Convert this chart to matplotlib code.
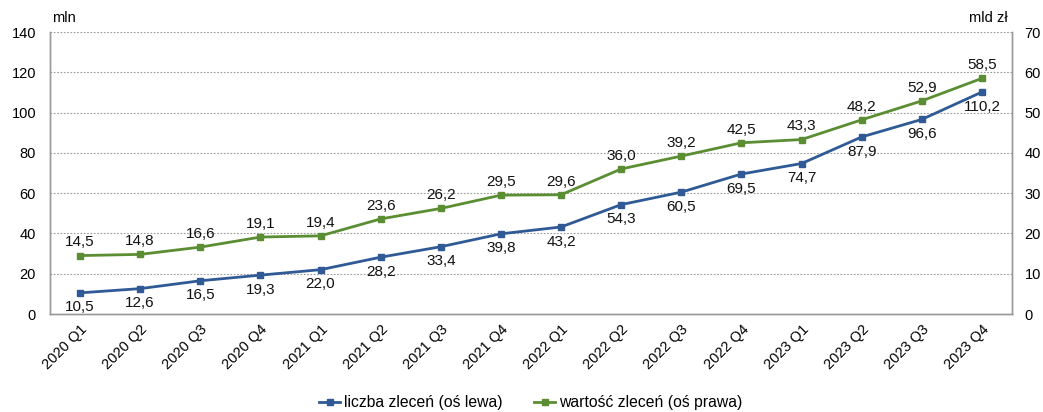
import matplotlib
matplotlib.use("Agg")
import matplotlib.pyplot as plt

categories = ["2020 Q1", "2020 Q2", "2020 Q3", "2020 Q4",
              "2021 Q1", "2021 Q2", "2021 Q3", "2021 Q4",
              "2022 Q1", "2022 Q2", "2022 Q3", "2022 Q4",
              "2023 Q1", "2023 Q2", "2023 Q3", "2023 Q4"]
liczba = [10.5, 12.6, 16.5, 19.3, 22.0, 28.2, 33.4, 39.8,
          43.2, 54.3, 60.5, 69.5, 74.7, 87.9, 96.6, 110.2]
wartosc = [14.5, 14.8, 16.6, 19.1, 19.4, 23.6, 26.2, 29.5,
           29.6, 36.0, 39.2, 42.5, 43.3, 48.2, 52.9, 58.5]
left_ticks = [0, 20, 40, 60, 80, 100, 120, 140]
right_ticks = [0, 10, 20, 30, 40, 50, 60, 70]

plt.rcParams['font.family'] = ['Liberation Sans', 'DejaVu Sans']
blue = "#2F5A95"
green = "#5B8E33"
fs = 10.5
lfs = 11

fig = plt.figure(figsize=(10.43, 4.12), dpi=100)
ax = fig.add_axes([50/1043, 1-314/412, 962/1043, 282/412])
ax2 = ax.twinx()

x = list(range(len(categories)))
l1, = ax.plot(x, liczba, color=blue, lw=2, marker='s', ms=4.5, label="liczba zleceń (oś lewa)", zorder=3)
l2, = ax2.plot(x, wartosc, color=green, lw=2, marker='s', ms=4.5, label="wartość zleceń (oś prawa)", zorder=3)

def fmt(v):
    return f"{v:.1f}".replace(".", ",")

for xi, v in zip(x, liczba):
    ax.annotate(fmt(v), (xi, v), xytext=(0, -5.5), textcoords="offset points",
                ha="center", va="top", fontsize=lfs, color="#111111")
for xi, v in zip(x, wartosc):
    ax2.annotate(fmt(v), (xi, v), xytext=(0, 4.5), textcoords="offset points",
                 ha="center", va="bottom", fontsize=lfs, color="#111111")

ax.set_xlim(-0.5, len(categories) - 0.5)
ax.set_ylim(0, 140)
ax2.set_ylim(0, 70)
ax.set_yticks(left_ticks)
ax2.set_yticks(right_ticks)
ax.set_yticklabels([str(t) for t in left_ticks], fontsize=fs)
ax2.set_yticklabels([str(t) for t in right_ticks], fontsize=fs)
ax.set_xticks(x)
ax.set_xticklabels(categories, rotation=45, ha="right", rotation_mode="anchor", fontsize=fs)

for t in left_ticks[1:]:
    ax.axhline(t, color="#9a9a9a", lw=0.8, ls=(0, (1.5, 1.5)), zorder=1)

for a in (ax, ax2):
    a.spines['top'].set_visible(False)
    for s in ('left', 'right', 'bottom'):
        a.spines[s].set_color("#999999")
        a.spines[s].set_linewidth(1.0)
    a.tick_params(length=0)
ax.tick_params(axis='y', pad=10)
ax2.tick_params(axis='y', pad=9)
ax.tick_params(axis='x', pad=6)

fig.text(52/1043, 1-18/412, "mln", fontsize=fs, ha="left", va="center")
fig.text(1008/1043, 1-18/412, "mld zł", fontsize=fs, ha="right", va="center")

fig.legend(handles=[l1, l2], loc="center", bbox_to_anchor=(531/1043, 1-403/412),
           ncol=2, frameon=False, fontsize=11.3, handlelength=1.3, columnspacing=2.0,
           handletextpad=0.3)

fig.savefig("out.png", dpi=100)
